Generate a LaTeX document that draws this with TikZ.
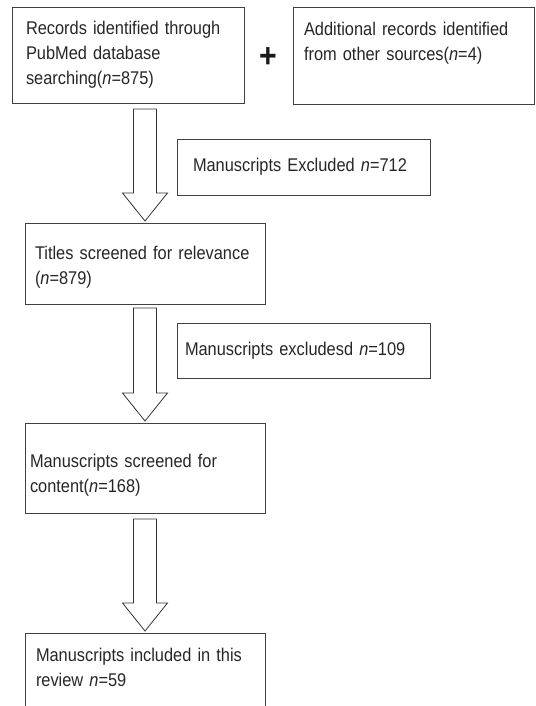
\documentclass[tikz,border=0pt]{standalone}
\usepackage{fontspec}
\setmainfont[FakeStretch=0.89]{Liberation Sans}
\usepackage{tikz}
\usetikzlibrary{calc}

\begin{document}
\begin{tikzpicture}[
    x=1pt, y=-1pt,
    box/.style={draw=black!75, line width=0.8pt, rectangle, anchor=north west, align=left, outer sep=0pt,
        text=black!85, font=\fontsize{18.4}{25}\selectfont},
    topbox/.style={box, text depth=53pt},
    excl/.style={box, minimum width=253pt, text width=229pt},
    hollow/.style={draw=black!80, line width=0.8pt, fill=white, line join=miter},
]
\useasboundingbox (0,0) rectangle (535,706);
\clip (0,0) rectangle (535,706);

% Top row
\node[box, minimum width=232pt, minimum height=96pt, text width=204pt, inner xsep=14pt] (records) at (12,7)
    {Records identified through\\PubMed database\\searching(\textit{n}=875)};
\node[font=\fontsize{34}{34}\selectfont\bfseries, text=black!90, inner sep=0pt] (plus) at (268,58) {+};
\node[topbox, minimum width=241pt, minimum height=97pt, text width=219pt, inner xsep=11pt] (additional) at (293,7)
    {Additional records identified\\from other sources(\textit{n}=4)};

% Main column
\node[box, minimum width=240pt, minimum height=81pt, text width=220pt, inner xsep=10pt, text depth=21pt] (titles) at (25,223)
    {Titles screened for relevance\\(\textit{n}=879)};
\node[box, minimum width=240pt, minimum height=90pt, text width=230pt, inner xsep=5pt, text depth=15pt] (content) at (25,423)
    {Manuscripts screened for\\content(\textit{n}=168)};
\node[topbox, minimum width=240pt, minimum height=96pt, text width=218pt, inner xsep=11pt] (included) at (25,633)
    {Manuscripts included in this\\review \textit{n}=59};

% Exclusions
\node[excl, minimum height=56pt, inner xsep=12pt, text width=229pt] (excl1) at (177,139)
    {\hspace*{4pt}Manuscripts Excluded \textit{n}=712};
\node[excl, minimum height=55pt, inner xsep=8pt, text width=237pt] (excl2) at (177,323)
    {Manuscripts excludesd \textit{n}=109};

% Block arrows
\coordinate (tail1) at ($(titles.north |- records.south)+(0,6)$);
\coordinate (tip1) at ($(titles.north)+(0,-2)$);
\coordinate (tail2) at ($(content.north |- titles.south)+(0,4)$);
\coordinate (tip2) at ($(content.north)+(0,-2)$);
\coordinate (tail3) at ($(included.north |- content.south)+(0,6)$);
\coordinate (tip3) at ($(included.north)+(0,-2)$);

\draw[hollow] ($(tail1)+(-11.5,0)$) -- ($(tip1)+(-11.5,-28)$) -- ($(tip1)+(-22.5,-28)$) -- (tip1)
    -- ($(tip1)+(22.5,-28)$) -- ($(tip1)+(11.5,-28)$) -- ($(tail1)+(11.5,0)$) -- cycle;
\draw[hollow] ($(tail2)+(-11.5,0)$) -- ($(tip2)+(-11.5,-28)$) -- ($(tip2)+(-22.5,-28)$) -- (tip2)
    -- ($(tip2)+(22.5,-28)$) -- ($(tip2)+(11.5,-28)$) -- ($(tail2)+(11.5,0)$) -- cycle;
\draw[hollow] ($(tail3)+(-11.5,0)$) -- ($(tip3)+(-11.5,-28)$) -- ($(tip3)+(-22.5,-28)$) -- (tip3)
    -- ($(tip3)+(22.5,-28)$) -- ($(tip3)+(11.5,-28)$) -- ($(tail3)+(11.5,0)$) -- cycle;
\end{tikzpicture}
\end{document}
